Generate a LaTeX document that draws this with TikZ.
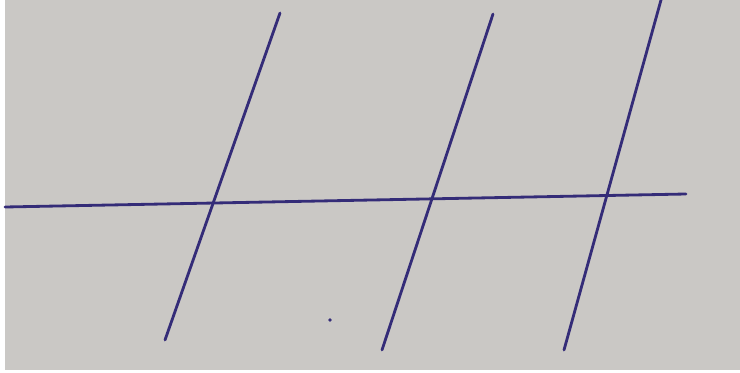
\documentclass[tikz,border=0pt]{standalone}
\usepackage{tikz}
\usetikzlibrary{arrows.meta}
\definecolor{paper}{RGB}{202, 200, 197}
\definecolor{inkblue}{RGB}{52, 44, 120}
\tikzstyle{penline} = [inkblue, line width=1.6pt, line cap=round]

\begin{document}
\begin{tikzpicture}[x=0.02cm, y=-0.02cm]
    % sheet
    \fill[white] (0,0) rectangle (740,372);
    \fill[paper] (5,0) rectangle (740,370);
    \useasboundingbox (0,0) rectangle (740,372);

    % transversal
    \coordinate (tl) at (5,207);
    \coordinate (tr) at (686,194);
    \draw[penline] (tl) -- (tr);

    % parallel lines
    \coordinate (a1) at (165,340);
    \coordinate (a2) at (280,13);
    \coordinate (b1) at (382,350);
    \coordinate (b2) at (493,14);
    \coordinate (c1) at (564,350);
    \coordinate (c2) at (661,0);
    \draw[penline] (a1) -- (a2);
    \draw[penline] (b1) -- (b2);
    \draw[penline] (c1) -- (c2);

    % stray dot
    \fill[inkblue] (330,320) circle (1.8);
\end{tikzpicture}
\end{document}
